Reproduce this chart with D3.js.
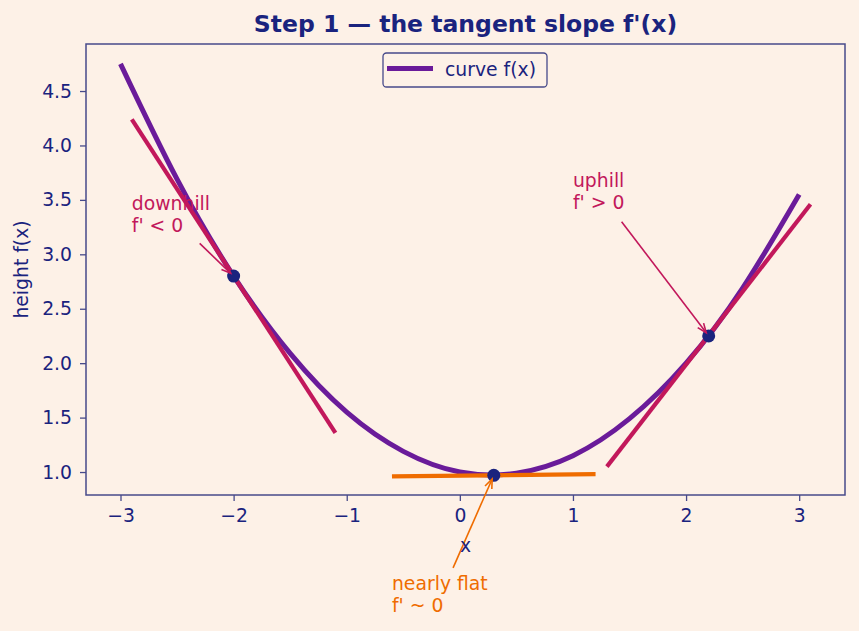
<!DOCTYPE html>
<html>
<head>
<meta charset="utf-8">
<script src="https://cdn.jsdelivr.net/npm/d3@7"></script>
<style>
  body { margin: 0; background: #fdf1e7; }
  svg { display: block; font-family: "DejaVu Sans", sans-serif; }
</style>
</head>
<body>
<div id="chart"></div>
<script>
// curve f(x) at half-unit steps
const curveX = [-3, -2.5, -2, -1.5, -1, -0.5, 0, 0.5, 1, 1.5, 2, 2.5, 3];
const curveY = [4.75, 3.69, 2.8, 2.09, 1.55, 1.19, 1.0, 0.99, 1.15, 1.49, 2.0, 2.69, 3.55];

// tangent segments: [x0, y0, x1, y1]
const tangentNames = ['downhill', 'flat', 'uphill'];
const tangentEnds = [[-2.9, 4.24, -1.1, 1.36], [-0.6, 0.96, 1.2, 0.98], [1.3, 1.05, 3.1, 3.46]];

// points of tangency
const pointX = [-2, 0.3, 2.2];
const pointY = [2.8, 0.97, 2.25];

// annotation labels, text anchor and arrow tail (data units)
const noteLines = [["downhill", "f' < 0"], ["nearly flat", "f' ~ 0"], ["uphill", "f' > 0"]];
const noteText = [[-2.9, 3.17], [-0.6, -0.32], [1.0, 3.38]];
const noteTail = [[-2.3, 3.1], [-0.06, 0.12], [1.43, 3.3]];

const xTicks = [-3, -2, -1, 0, 1, 2, 3];
const yTicks = [1.0, 1.5, 2.0, 2.5, 3.0, 3.5, 4.0, 4.5];

const navy = '#1a237e';
const spine = '#474a8a';
const purple = '#6a1b9a';
const lineColors = { downhill: '#c2185b', flat: '#ef6c00', uphill: '#c2185b' };

const width = 859;
const height = 631;
const margin = { top: 44, right: 14, bottom: 136, left: 86 };
const fontSize = 18.8;

const svg = d3.select('#chart').append('svg')
  .attr('width', width)
  .attr('height', height);

svg.append('rect').attr('width', width).attr('height', height).attr('fill', '#fdf1e7');

const x = d3.scaleLinear().domain([-3.305, 3.405]).range([margin.left, width - margin.right]);
const y = d3.scaleLinear().domain([0.789, 4.932]).range([height - margin.bottom, margin.top]);

const defs = svg.append('defs');
defs.append('clipPath').attr('id', 'plot-clip')
  .append('rect')
  .attr('x', margin.left).attr('y', margin.top)
  .attr('width', width - margin.left - margin.right)
  .attr('height', height - margin.top - margin.bottom);

// axes
const xAxis = svg.append('g')
  .attr('transform', `translate(0, ${height - margin.bottom})`)
  .call(d3.axisBottom(x).tickValues(xTicks).tickSize(6).tickPadding(8)
    .tickFormat((d) => d3.format('d')(d).replace('-', '\u2212')));
const yAxis = svg.append('g')
  .attr('transform', `translate(${margin.left}, 0)`)
  .call(d3.axisLeft(y).tickValues(yTicks).tickSize(6).tickPadding(8).tickFormat(d3.format('.1f')));

[xAxis, yAxis].forEach((g) => {
  g.select('.domain').remove();
  g.selectAll('line').attr('stroke', spine).attr('stroke-width', 1.3);
  g.selectAll('text').attr('fill', navy).attr('font-size', fontSize)
    .attr('font-family', '"DejaVu Sans", sans-serif');
});

svg.append('rect')
  .attr('x', margin.left).attr('y', margin.top)
  .attr('width', width - margin.left - margin.right)
  .attr('height', height - margin.top - margin.bottom)
  .attr('fill', 'none').attr('stroke', spine).attr('stroke-width', 1.5);

const plot = svg.append('g').attr('clip-path', 'url(#plot-clip)');

// curve
const line = d3.line().x((d) => x(d[0])).y((d) => y(d[1])).curve(d3.curveNatural);
plot.append('path')
  .datum(d3.zip(curveX, curveY))
  .attr('d', line)
  .attr('fill', 'none')
  .attr('stroke', purple)
  .attr('stroke-width', 5);

// tangents
plot.selectAll('.tangent')
  .data(tangentEnds)
  .enter().append('line')
    .attr('class', 'tangent')
    .attr('x1', (d) => x(d[0])).attr('y1', (d) => y(d[1]))
    .attr('x2', (d) => x(d[2])).attr('y2', (d) => y(d[3]))
    .attr('stroke', (d, i) => lineColors[tangentNames[i]])
    .attr('stroke-width', 4.2);

plot.selectAll('.pt')
  .data(d3.zip(pointX, pointY))
  .enter().append('circle')
    .attr('class', 'pt')
    .attr('cx', (d) => x(d[0])).attr('cy', (d) => y(d[1]))
    .attr('r', 6.5)
    .attr('fill', navy);

// annotations with open "->" arrows
noteLines.forEach((lines, i) => {
  const color = lineColors[tangentNames[i]];
  const tx = x(noteText[i][0]);
  const ty = y(noteText[i][1]);
  const t = svg.append('text')
    .attr('x', tx).attr('y', ty)
    .attr('fill', color).attr('font-size', fontSize);
  lines.forEach((s, k) => {
    t.append('tspan')
      .attr('x', tx)
      .attr('y', ty - (lines.length - 1 - k) * 21.7 - 4)
      .text(s);
  });

  const x0 = x(noteTail[i][0]), y0 = y(noteTail[i][1]);
  const px = x(pointX[i]), py = y(pointY[i]);
  const ang = Math.atan2(py - y0, px - x0);
  const shrink = 4;
  const x1 = px - shrink * Math.cos(ang), y1 = py - shrink * Math.sin(ang);
  svg.append('line')
    .attr('x1', x0).attr('y1', y0).attr('x2', x1).attr('y2', y1)
    .attr('stroke', color).attr('stroke-width', 1.6);
  const head = 10, spread = 0.38;
  svg.append('path')
    .attr('d', `M${x1 - head * Math.cos(ang - spread)},${y1 - head * Math.sin(ang - spread)}`
      + `L${x1},${y1}`
      + `L${x1 - head * Math.cos(ang + spread)},${y1 - head * Math.sin(ang + spread)}`)
    .attr('fill', 'none').attr('stroke', color).attr('stroke-width', 1.6);
});

// titles
svg.append('text')
  .attr('x', (margin.left + width - margin.right) / 2).attr('y', 32)
  .attr('text-anchor', 'middle')
  .attr('font-size', 23.5).attr('font-weight', 'bold').attr('fill', navy)
  .text("Step 1 \u2014 the tangent slope f'(x)");

svg.append('text')
  .attr('x', (margin.left + width - margin.right) / 2).attr('y', 552)
  .attr('text-anchor', 'middle')
  .attr('font-size', fontSize).attr('fill', navy)
  .text('x');

svg.append('text')
  .attr('transform', `translate(28, ${(margin.top + height - margin.bottom) / 2}) rotate(-90)`)
  .attr('text-anchor', 'middle')
  .attr('font-size', fontSize).attr('fill', navy)
  .text('height f(x)');

// legend
const legend = svg.append('g').attr('transform', 'translate(383, 53)');
legend.append('rect')
  .attr('width', 164).attr('height', 34).attr('rx', 3.5)
  .attr('fill', '#fdf1e7').attr('stroke', spine).attr('stroke-width', 1.3);
legend.append('line')
  .attr('x1', 4).attr('x2', 50).attr('y1', 15.5).attr('y2', 15.5)
  .attr('stroke', purple).attr('stroke-width', 5);
legend.append('text')
  .attr('x', 62).attr('y', 22.5)
  .attr('font-size', fontSize).attr('fill', navy)
  .text('curve f(x)');
</script>
</body>
</html>
